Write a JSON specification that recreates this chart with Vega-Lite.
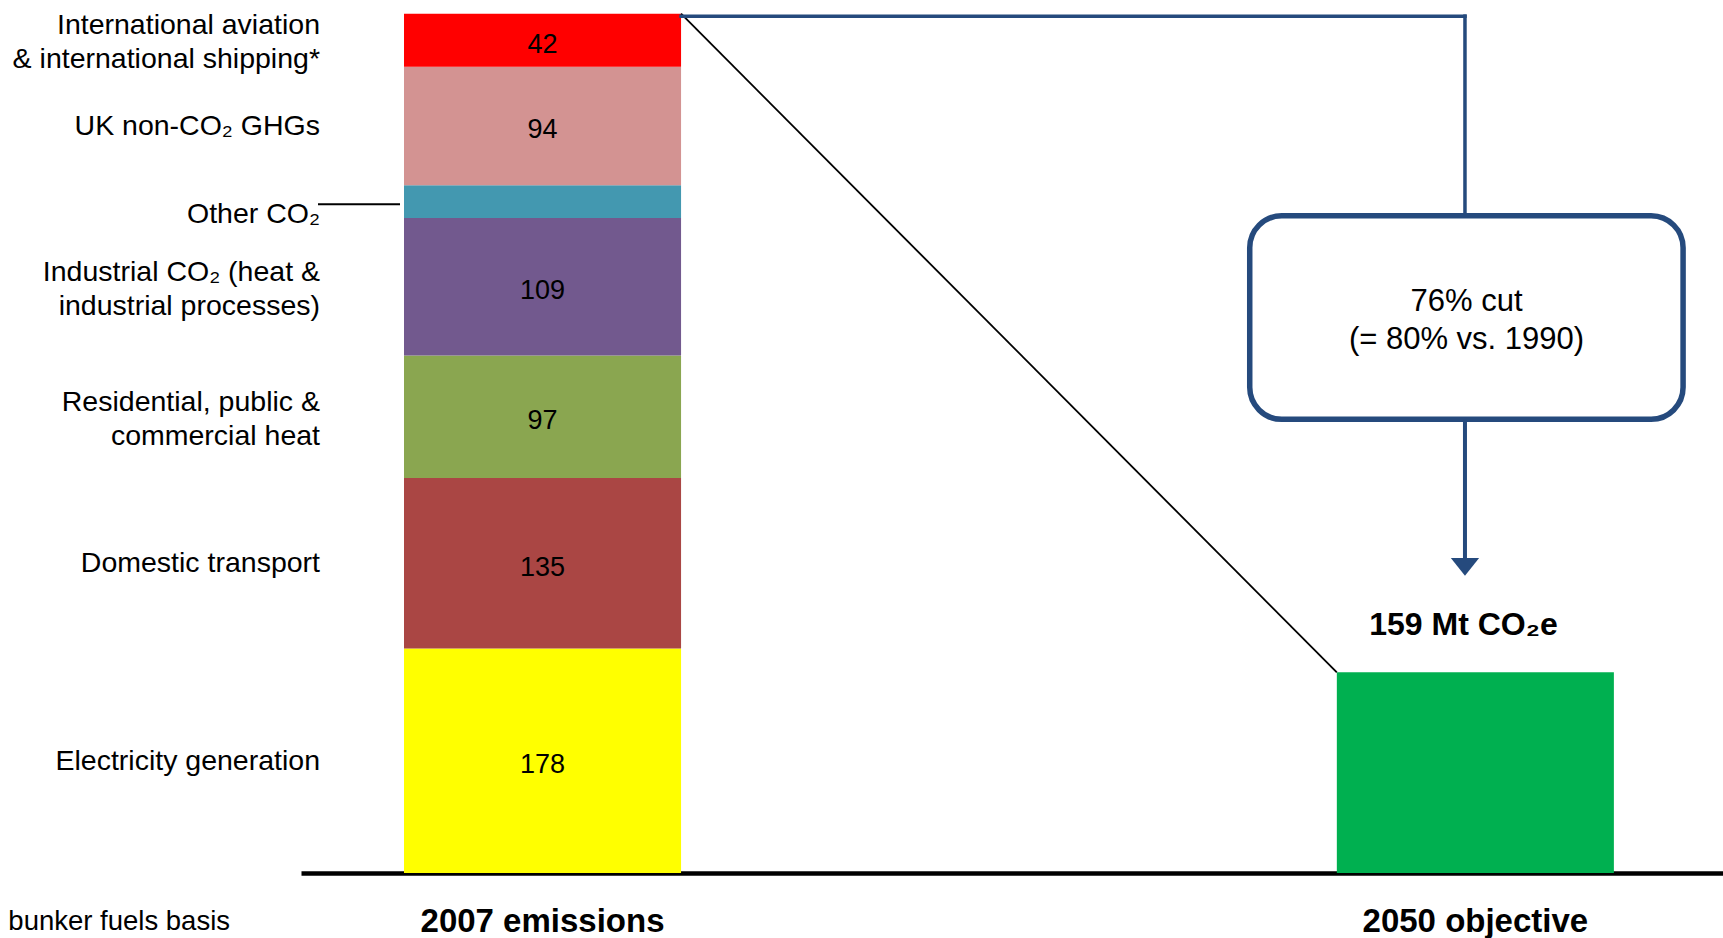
{
  "$schema": "https://vega.github.io/schema/vega-lite/v6.json",
  "width": 1422,
  "height": 873,
  "padding": {"left": 301, "top": 0, "right": 0, "bottom": 65},
  "autosize": {"type": "none"},
  "background": "white",
  "config": {
    "view": {"stroke": null},
    "font": "Liberation Sans",
    "text": {"font": "Liberation Sans", "color": "black"},
    "axisX": {
      "domainColor": "black",
      "domainWidth": 4.5,
      "ticks": false,
      "tickSize": 0,
      "grid": false,
      "labelFont": "Liberation Sans",
      "labelFontWeight": "bold",
      "labelFontSize": 33,
      "labelColor": "black",
      "labelPadding": 32,
      "labelLimit": 0,
      "labelAngle": 0,
      "title": null
    }
  },
  "datasets": {
    "emissions": [
      {"category": "2007 emissions", "sector": "Electricity generation", "name": "Electricity generation", "value": 178, "rank": 1},
      {"category": "2007 emissions", "sector": "Domestic transport", "name": "Domestic transport", "value": 135, "rank": 2},
      {"category": "2007 emissions", "sector": "Residential, public & commercial heat", "name": "Residential, public &\ncommercial heat", "value": 97, "rank": 3},
      {"category": "2007 emissions", "sector": "Industrial CO₂", "name": "Industrial CO₂ (heat &\nindustrial processes)", "value": 109, "rank": 4},
      {"category": "2007 emissions", "sector": "Other CO₂", "name": "Other CO₂", "value": 26, "rank": 5},
      {"category": "2007 emissions", "sector": "UK non-CO₂ GHGs", "name": "UK non-CO₂ GHGs", "value": 94, "rank": 6},
      {"category": "2007 emissions", "sector": "International aviation & shipping", "name": "International aviation\n& international shipping*", "value": 42, "rank": 7},
      {"category": "2050 objective", "sector": "2050 objective", "name": "159 Mt CO₂e", "value": 159, "rank": 1}
    ]
  },
  "data": {"name": "emissions"},
  "layer": [
    {
      "mark": {"type": "bar"},
      "encoding": {
        "x": {
          "field": "category", "type": "nominal",
          "scale": {"domain": ["2007 emissions", "2050 objective"], "paddingInner": 0.703, "paddingOuter": 0.1137, "align": 0.4856},
          "axis": {"title": null}
        },
        "y": {"field": "value", "type": "quantitative", "stack": "zero", "scale": {"domain": [0, 691.8], "nice": false, "zero": true}, "axis": null},
        "color": {
          "field": "sector", "type": "nominal", "legend": null,
          "scale": {
            "domain": ["Electricity generation", "Domestic transport", "Residential, public & commercial heat", "Industrial CO₂", "Other CO₂", "UK non-CO₂ GHGs", "International aviation & shipping", "2050 objective"],
            "range": ["#FFFF00", "#AA4644", "#8AA650", "#72598E", "#4398B0", "#D39392", "#FF0000", "#00B050"]
          }
        },
        "order": {"field": "rank", "type": "quantitative"}
      }
    },
    {
      "mark": {"type": "text", "fontSize": 27, "baseline": "middle", "align": "center", "dy": 4.5},
      "encoding": {
        "x": {"field": "category", "type": "nominal"},
        "y": {"field": "value", "type": "quantitative", "stack": "zero", "bandPosition": 0.5, "axis": null},
        "detail": {"field": "sector"},
        "order": {"field": "rank", "type": "quantitative"},
        "text": {"condition": {"test": "datum.sector === 'Other CO₂' || datum.category === '2050 objective'", "value": ""}, "field": "value", "type": "quantitative"}
      }
    },
    {
      "mark": {"type": "text", "fontSize": 28.5, "baseline": "middle", "align": "right", "dx": -84},
      "encoding": {
        "x": {"field": "category", "type": "nominal", "bandPosition": 0},
        "y": {"field": "value", "type": "quantitative", "stack": "zero", "bandPosition": 0.5, "axis": null},
        "detail": {"field": "sector"},
        "order": {"field": "rank", "type": "quantitative"},
        "text": {"condition": {"test": "datum.sector === 'Other CO₂' || datum.category === '2050 objective' || indexof(datum.name, '\\n') >= 0", "value": ""}, "field": "name", "type": "nominal"}
      }
    },
    {
      "mark": {"type": "text", "fontSize": 28.5, "baseline": "middle", "align": "right", "dx": -84, "dy": -15, "lineBreak": "\n", "lineHeight": 34},
      "encoding": {
        "x": {"field": "category", "type": "nominal", "bandPosition": 0},
        "y": {"field": "value", "type": "quantitative", "stack": "zero", "bandPosition": 0.5, "axis": null},
        "detail": {"field": "sector"},
        "order": {"field": "rank", "type": "quantitative"},
        "text": {"condition": {"test": "indexof(datum.name, '\\n') < 0", "value": ""}, "field": "name", "type": "nominal"}
      }
    },
    {
      "data": {"values": [{"note": "Other CO₂"}]},
      "mark": {"type": "text", "fontSize": 28.5, "baseline": "middle", "align": "right", "dx": -84},
      "encoding": {
        "x": {"datum": "2007 emissions", "type": "nominal", "bandPosition": 0},
        "y": {"datum": 522.3, "type": "quantitative", "axis": null},
        "text": {"field": "note"}
      }
    },
    {
      "data": {"values": [{}]},
      "mark": {"type": "rule", "color": "black", "strokeWidth": 2, "xOffset": -86, "x2Offset": -4},
      "encoding": {
        "x": {"datum": "2007 emissions", "type": "nominal", "bandPosition": 0},
        "x2": {"datum": "2007 emissions", "bandPosition": 0},
        "y": {"datum": 529.9, "type": "quantitative", "axis": null}
      }
    },
    {
      "data": {"values": [{}]},
      "mark": {"type": "rule", "color": "black", "strokeWidth": 1.8},
      "encoding": {
        "x": {"datum": "2007 emissions", "type": "nominal", "bandPosition": 1},
        "x2": {"datum": "2050 objective", "bandPosition": 0},
        "y": {"datum": 681, "type": "quantitative", "axis": null},
        "y2": {"datum": 159}
      }
    },
    {
      "data": {"values": [{}]},
      "mark": {"type": "rule", "color": "#254A7D", "strokeWidth": 3.5, "strokeCap": "square"},
      "encoding": {
        "x": {"datum": "2007 emissions", "type": "nominal", "bandPosition": 1},
        "x2": {"datum": "2050 objective", "bandPosition": 0.4625},
        "y": {"datum": 679, "type": "quantitative", "axis": null}
      }
    },
    {
      "data": {"values": [{}]},
      "mark": {"type": "rule", "color": "#254A7D", "strokeWidth": 3.5, "strokeCap": "square"},
      "encoding": {
        "x": {"datum": "2050 objective", "type": "nominal", "bandPosition": 0.4625},
        "y": {"datum": 679, "type": "quantitative", "axis": null},
        "y2": {"datum": 520.8}
      }
    },
    {
      "data": {"values": [{}]},
      "mark": {"type": "rect", "fill": "white", "stroke": "#254A7D", "strokeWidth": 5.5, "cornerRadius": 32, "xOffset": -87.1, "x2Offset": 69.2},
      "encoding": {
        "x": {"datum": "2050 objective", "type": "nominal", "bandPosition": 0},
        "x2": {"datum": "2050 objective", "bandPosition": 1},
        "y": {"datum": 520.8, "type": "quantitative", "axis": null},
        "y2": {"datum": 359.5}
      }
    },
    {
      "data": {"values": [{"note": "76% cut\n(= 80% vs. 1990)"}]},
      "mark": {"type": "text", "fontSize": 31, "baseline": "middle", "align": "center", "lineBreak": "\n", "lineHeight": 37.3, "dy": -18},
      "encoding": {
        "x": {"datum": "2050 objective", "type": "nominal", "bandPosition": 0.468},
        "y": {"datum": 437.9, "type": "quantitative", "axis": null},
        "text": {"field": "note"}
      }
    },
    {
      "data": {"values": [{}]},
      "mark": {"type": "rule", "color": "#254A7D", "strokeWidth": 4},
      "encoding": {
        "x": {"datum": "2050 objective", "type": "nominal", "bandPosition": 0.4625},
        "y": {"datum": 359.5, "type": "quantitative", "axis": null},
        "y2": {"datum": 249.4}
      }
    },
    {
      "data": {"values": [{}]},
      "mark": {"type": "point", "shape": "M-1,-0.625L1,-0.625L0,0.625Z", "size": 800, "filled": true, "opacity": 1, "color": "#254A7D", "strokeWidth": 0},
      "encoding": {
        "x": {"datum": "2050 objective", "type": "nominal", "bandPosition": 0.4625},
        "y": {"datum": 242.6, "type": "quantitative", "axis": null}
      }
    },
    {
      "transform": [{"filter": "datum.category === '2050 objective'"}],
      "mark": {"type": "text", "fontSize": 32, "fontWeight": "bold", "baseline": "middle", "align": "center"},
      "encoding": {
        "x": {"field": "category", "type": "nominal", "bandPosition": 0.457},
        "y": {"datum": 196.2, "type": "quantitative", "axis": null},
        "text": {"field": "name"}
      }
    },
    {
      "data": {"values": [{"note": "bunker fuels basis"}]},
      "mark": {"type": "text", "fontSize": 27.5, "baseline": "alphabetic", "align": "right", "dx": -174},
      "encoding": {
        "x": {"datum": "2007 emissions", "type": "nominal", "bandPosition": 0},
        "y": {"datum": -45.5, "type": "quantitative", "axis": null},
        "text": {"field": "note"}
      }
    }
  ]
}
